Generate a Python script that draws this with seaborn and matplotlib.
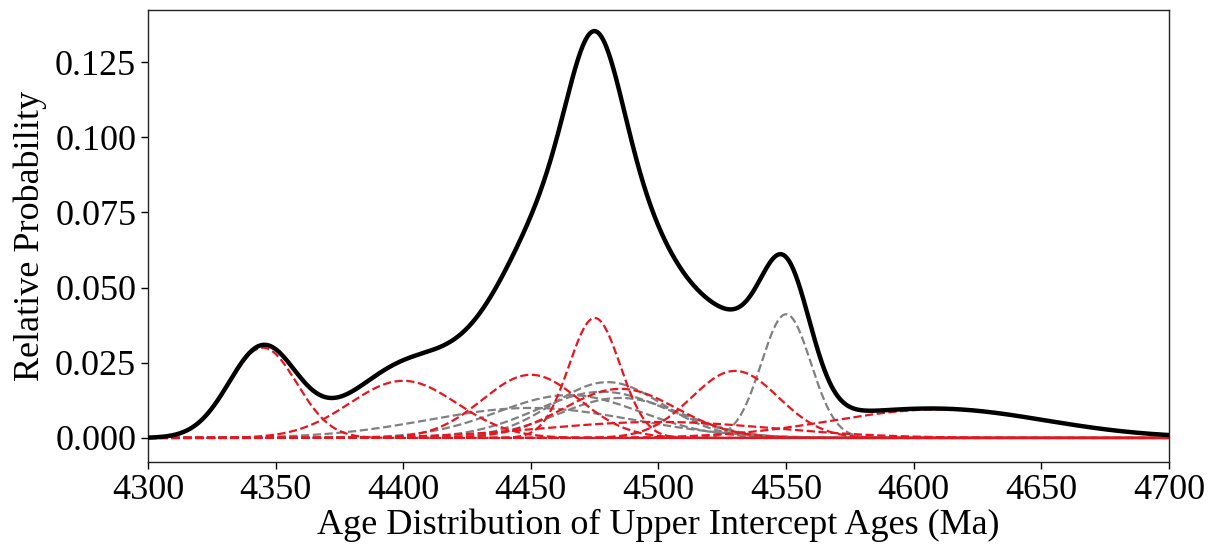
import numpy as np
import pandas as pd
import matplotlib
matplotlib.use("Agg")
import matplotlib.pyplot as plt
import seaborn as sns

# component ages (Ma), 1-sigma widths and weights
red_ages = [4345, 4400, 4450, 4475, 4530, 4610, 4500, 4485]
red_sigmas = [13.3, 21, 19, 10, 17, 42, 45, 22]
red_weights = [1.0, 1.0, 1.0, 1.0, 0.95, 1.0, 0.6, 0.9]

gray_ages = [4550, 4480, 4478, 4465, 4450, 4485]
gray_sigmas = [9.7, 21.5, 26, 28, 40, 24]
gray_weights = [1.0, 1.0, 1.0, 1.0, 1.0, 0.8]

x_ticks = [4300, 4350, 4400, 4450, 4500, 4550, 4600, 4650, 4700]
y_ticks = [0.0, 0.025, 0.05, 0.075, 0.1, 0.125]


def gauss(x, mu, sd, w):
    return w * np.exp(-0.5 * ((x - mu) / sd) ** 2) / (sd * np.sqrt(2 * np.pi))


sns.set_style("ticks")
plt.rcParams['font.family'] = ['Liberation Serif', 'DejaVu Serif']
plt.rcParams['text.color'] = 'black'
plt.rcParams['axes.labelcolor'] = 'black'
plt.rcParams['xtick.color'] = 'black'
plt.rcParams['ytick.color'] = 'black'

grid = np.linspace(4300, 4700, 2001)

fig = plt.figure(figsize=(12.11, 5.47), dpi=100)
ax = fig.add_axes([0.1222, 0.1554, 0.8431, 0.8263])

total = np.zeros_like(grid)
for mu, sd, w in zip(gray_ages, gray_sigmas, gray_weights):
    y = gauss(grid, mu, sd, w)
    total += y
    sns.lineplot(x=grid, y=y, ax=ax, color="gray", linestyle="--", linewidth=1.6, zorder=2)
for mu, sd, w in zip(red_ages, red_sigmas, red_weights):
    y = gauss(grid, mu, sd, w)
    total += y
    sns.lineplot(x=grid, y=y, ax=ax, color="#e8141e", linestyle="--", linewidth=1.6, zorder=2)

df = pd.DataFrame({"age": grid, "prob": total})
sns.lineplot(data=df, x="age", y="prob", ax=ax, color="black", linewidth=3.2, zorder=3)

ax.set_xlim(4300, 4700)
ax.set_ylim(-0.008, 0.1423)
ax.set_xticks(x_ticks)
ax.set_yticks(y_ticks)
ax.set_yticklabels([f"{v:.3f}" for v in y_ticks])
ax.tick_params(labelsize=26, length=5, width=1, direction="out")
ax.set_xlabel("Age Distribution of Upper Intercept Ages (Ma)", fontsize=26, labelpad=1)
ax.set_ylabel("Relative Probability", fontsize=26, labelpad=6)
for s in ax.spines.values():
    s.set_linewidth(1)
    s.set_color("#222222")

fig.savefig("out.png", dpi=100)
